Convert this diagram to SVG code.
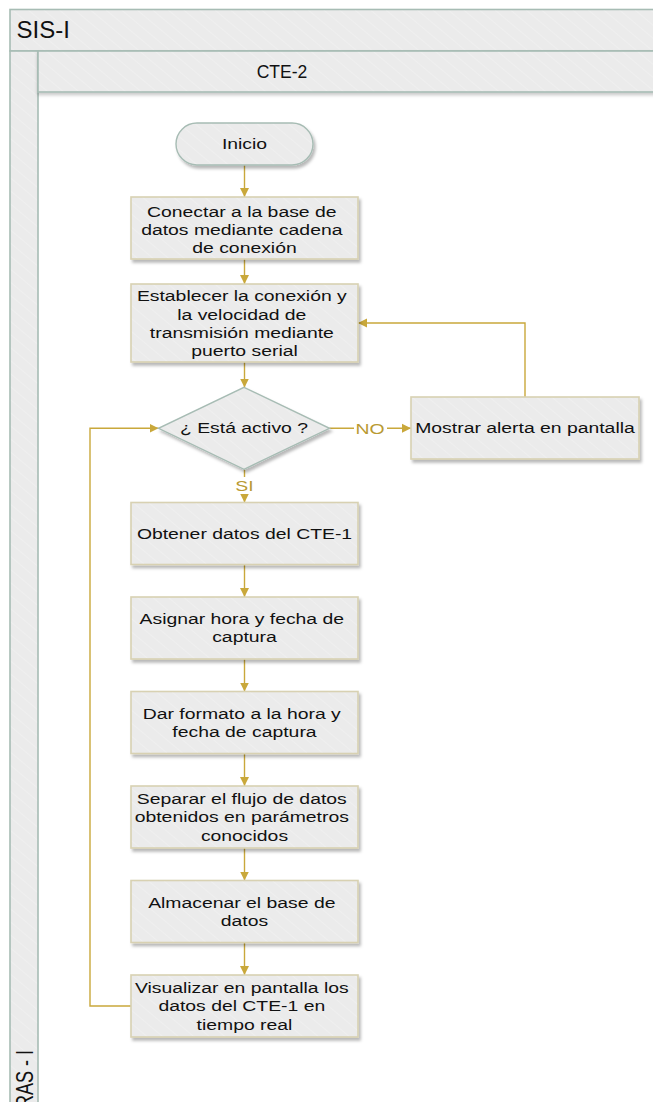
<svg xmlns="http://www.w3.org/2000/svg" width="653" height="1102" viewBox="0 0 653 1102">
  <defs>
    <!-- light grey fill with faint diagonal sheen -->
    <pattern id="hatch" width="10" height="10" patternUnits="userSpaceOnUse" patternTransform="rotate(-50)">
      <rect width="10" height="10" fill="#ebebeb"/>
      <line x1="0" y1="0" x2="0" y2="10" stroke="#f1f1f1" stroke-width="1.4"/>
    </pattern>
    <filter id="shadow" x="-10%" y="-10%" width="125%" height="135%">
      <feDropShadow dx="2" dy="3" stdDeviation="1.6" flood-color="#000" flood-opacity="0.28"/>
    </filter>
    <filter id="hshadow" x="-5%" y="-20%" width="110%" height="160%">
      <feDropShadow dx="0" dy="2.5" stdDeviation="1.5" flood-color="#000" flood-opacity="0.2"/>
    </filter>
    <marker id="arrow" viewBox="0 0 10 10" markerUnits="userSpaceOnUse" markerWidth="9" markerHeight="11.5" refX="10" refY="5" orient="auto">
      <path d="M0,0 L10,5 L0,10 z" fill="#c9a83b"/>
    </marker>
  </defs>
  <style>
    .pool { fill: url(#hatch); stroke: #a7bcb4; stroke-width: 1.6; }
    .proc { fill: url(#hatch); stroke: #d8d1b2; stroke-width: 1.6; filter: url(#shadow); }
    .term { fill: url(#hatch); stroke: #a7bcb4; stroke-width: 1.4; filter: url(#shadow); }
    .lbl { font-family: "Liberation Sans", Arial, sans-serif; font-size: 15.5px; fill: #111; text-anchor: middle; }
    .edge { fill: none; stroke: #c9a83b; stroke-width: 1.4; }
    .elbl { font-family: "Liberation Sans", Arial, sans-serif; font-size: 15.5px; fill: #b99a33; text-anchor: middle; }
  </style>

  <rect width="653" height="1102" fill="#ffffff"/>

  <!-- pool and lane -->
  <g id="pool">
    <rect class="pool" x="10" y="9.5" width="660" height="41.5"/>
    <rect class="pool" x="10" y="51" width="28" height="1070"/>
    <rect class="pool" x="38" y="51" width="632" height="41" filter="url(#hshadow)"/>
    <text x="16.5" y="37.5" style="font-family:'Liberation Sans',Arial,sans-serif;font-size:24px;fill:#111">SIS-I</text>
    <text x="282" y="77.5" style="font-family:'Liberation Sans',Arial,sans-serif;font-size:17.5px;fill:#111;text-anchor:middle">CTE-2</text>
    <text transform="translate(33,1050) rotate(-90) scale(1,1.3)" style="font-family:'Liberation Sans',Arial,sans-serif;font-size:18px;fill:#111;text-anchor:end">RAS - I</text>
  </g>

  <!-- connectors -->
  <g id="connectors">
    <path class="edge" d="M244.5,165 V197" marker-end="url(#arrow)"/>
    <path class="edge" d="M244.5,259 V284" marker-end="url(#arrow)"/>
    <path class="edge" d="M244.5,362 V387.5" marker-end="url(#arrow)"/>
    <path class="edge" d="M329.5,428.3 H354 M387,428.3 H411" marker-end="url(#arrow)"/>
    <text class="elbl" transform="matrix(1.25 0 0 1 -92.5 0)" x="370" y="433.8">NO</text>
    <path class="edge" d="M525,397 V323 H358" marker-end="url(#arrow)"/>
    <path class="edge" d="M244.5,469.5 V477 M244.5,494.5 V502.5" marker-end="url(#arrow)"/>
    <text class="elbl" transform="matrix(1.25 0 0 1 -61.125 0)" x="244.5" y="491.5">SI</text>
    <path class="edge" d="M244.5,564.5 V597" marker-end="url(#arrow)"/>
    <path class="edge" d="M244.5,659 V691.5" marker-end="url(#arrow)"/>
    <path class="edge" d="M244.5,753.5 V786" marker-end="url(#arrow)"/>
    <path class="edge" d="M244.5,848 V880.5" marker-end="url(#arrow)"/>
    <path class="edge" d="M244.5,942.5 V975" marker-end="url(#arrow)"/>
    <path class="edge" d="M131,1006 H90 V428.3 H158.5" marker-end="url(#arrow)"/>
  </g>

  <g id="inicio">
    <rect class="term" x="176" y="123" width="137" height="42" rx="21" ry="21"/>
    <text class="lbl" transform="matrix(1.25 0 0 1 -61.125 0)" x="244.5" y="149.5">Inicio</text>
  </g>

  <g id="conectar">
    <rect class="proc" x="131" y="197" width="227" height="62"/>
    <text class="lbl" transform="matrix(1.25 0 0 1 -61.125 0)" x="244.5" y="216.7">
      <tspan x="244.5">Conectar a la base de</tspan>
      <tspan x="244.5" dy="18.3">datos mediante cadena</tspan>
      <tspan x="244.5" dy="18.3">de conexión</tspan>
    </text>
  </g>

  <g id="establecer">
    <rect class="proc" x="131" y="284" width="227" height="78"/>
    <text class="lbl" transform="matrix(1.25 0 0 1 -61.125 0)" x="244.5" y="301.5">
      <tspan x="244.5">Establecer la conexión y</tspan>
      <tspan x="244.5" dy="18.3">la velocidad de</tspan>
      <tspan x="244.5" dy="18.3">transmisión mediante</tspan>
      <tspan x="244.5" dy="18.3">puerto serial</tspan>
    </text>
  </g>

  <g id="activo">
    <polygon class="term" points="244,387.3 329.5,428.3 244,469.3 158.5,428.3"/>
    <text class="lbl" transform="matrix(1.25 0 0 1 -61 0)" x="244" y="433.5">¿ Está activo ?</text>
  </g>

  <g id="alerta">
    <rect class="proc" x="411" y="397" width="228" height="62"/>
    <text class="lbl" transform="matrix(1.25 0 0 1 -131.25 0)" x="525" y="433.5">Mostrar alerta en pantalla</text>
  </g>

  <g id="obtener">
    <rect class="proc" x="131" y="502.5" width="227" height="62"/>
    <text class="lbl" transform="matrix(1.25 0 0 1 -61.125 0)" x="244.5" y="538.8">Obtener datos del CTE-1</text>
  </g>

  <g id="asignar">
    <rect class="proc" x="131" y="597" width="227" height="62"/>
    <text class="lbl" transform="matrix(1.25 0 0 1 -61.125 0)" x="244.5" y="624.1">
      <tspan x="244.5">Asignar hora y fecha de</tspan>
      <tspan x="244.5" dy="18.3">captura</tspan>
    </text>
  </g>

  <g id="formato">
    <rect class="proc" x="131" y="691.5" width="227" height="62"/>
    <text class="lbl" transform="matrix(1.25 0 0 1 -61.125 0)" x="244.5" y="718.6">
      <tspan x="244.5">Dar formato a la hora y</tspan>
      <tspan x="244.5" dy="18.3">fecha de captura</tspan>
    </text>
  </g>

  <g id="separar">
    <rect class="proc" x="131" y="786" width="227" height="62"/>
    <text class="lbl" transform="matrix(1.25 0 0 1 -61.125 0)" x="244.5" y="804">
      <tspan x="244.5">Separar el flujo de datos</tspan>
      <tspan x="244.5" dy="18.3">obtenidos en parámetros</tspan>
      <tspan x="244.5" dy="18.3">conocidos</tspan>
    </text>
  </g>

  <g id="almacenar">
    <rect class="proc" x="131" y="880.5" width="227" height="62"/>
    <text class="lbl" transform="matrix(1.25 0 0 1 -61.125 0)" x="244.5" y="907.6">
      <tspan x="244.5">Almacenar el base de</tspan>
      <tspan x="244.5" dy="18.3">datos</tspan>
    </text>
  </g>

  <g id="visualizar">
    <rect class="proc" x="131" y="975" width="227" height="62"/>
    <text class="lbl" transform="matrix(1.25 0 0 1 -61.125 0)" x="244.5" y="993">
      <tspan x="244.5">Visualizar en pantalla los</tspan>
      <tspan x="244.5" dy="18.3">datos del CTE-1 en</tspan>
      <tspan x="244.5" dy="18.3">tiempo real</tspan>
    </text>
  </g>
</svg>
